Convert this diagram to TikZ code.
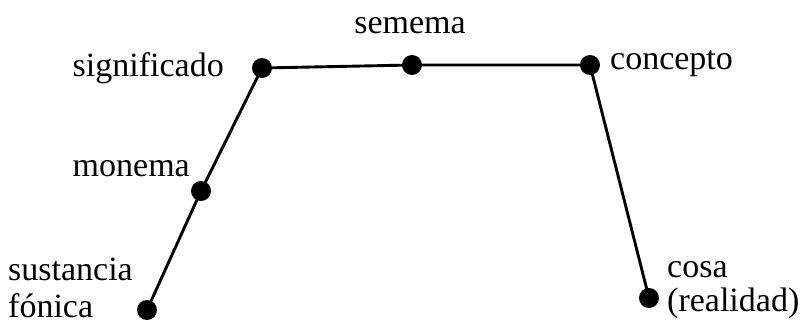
\documentclass[tikz,border=0pt]{standalone}
\usepackage{fontspec}
\setmainfont{Liberation Serif}
\begin{document}
\begin{tikzpicture}[x=1pt,y=-1pt,
  dot/.style={circle,fill=black,inner sep=0pt,minimum size=20pt},
  lbl/.style={font=\fontsize{34}{38}\selectfont,inner sep=0pt},
  link/.style={line width=2.9pt}]
\useasboundingbox (0,0) rectangle (807,324);
\node[dot] (sig) at (262,68) {};
\node[dot] (sem) at (412,65) {};
\node[dot] (con) at (590,65) {};
\node[dot] (mon) at (201,191) {};
\node[dot] (sus) at (147,310) {};
\node[dot] (cos) at (649,298) {};
\draw[link] (sus.center) -- (mon.center) -- (sig.center) -- (sem.center) -- (con.center) -- (cos.center);
\node[lbl,anchor=base east] (tsig) at (224,76) {significado};
\node[lbl,anchor=base] (tsem) at (410,33) {semema};
\node[lbl,anchor=base west] (tcon) at (610,69) {concepto};
\node[lbl,anchor=base east] (tmon) at (190,176) {monema};
\node[lbl,anchor=base west] (tsus) at (8,280) {sustancia};
\node[lbl,anchor=base west] (tfon) at (8,317) {fónica};
\node[lbl,anchor=base west] (tcos) at (667,277) {cosa};
\node[lbl,anchor=base west] (trea) at (667,311) {(realidad)};
\end{tikzpicture}
\end{document}
